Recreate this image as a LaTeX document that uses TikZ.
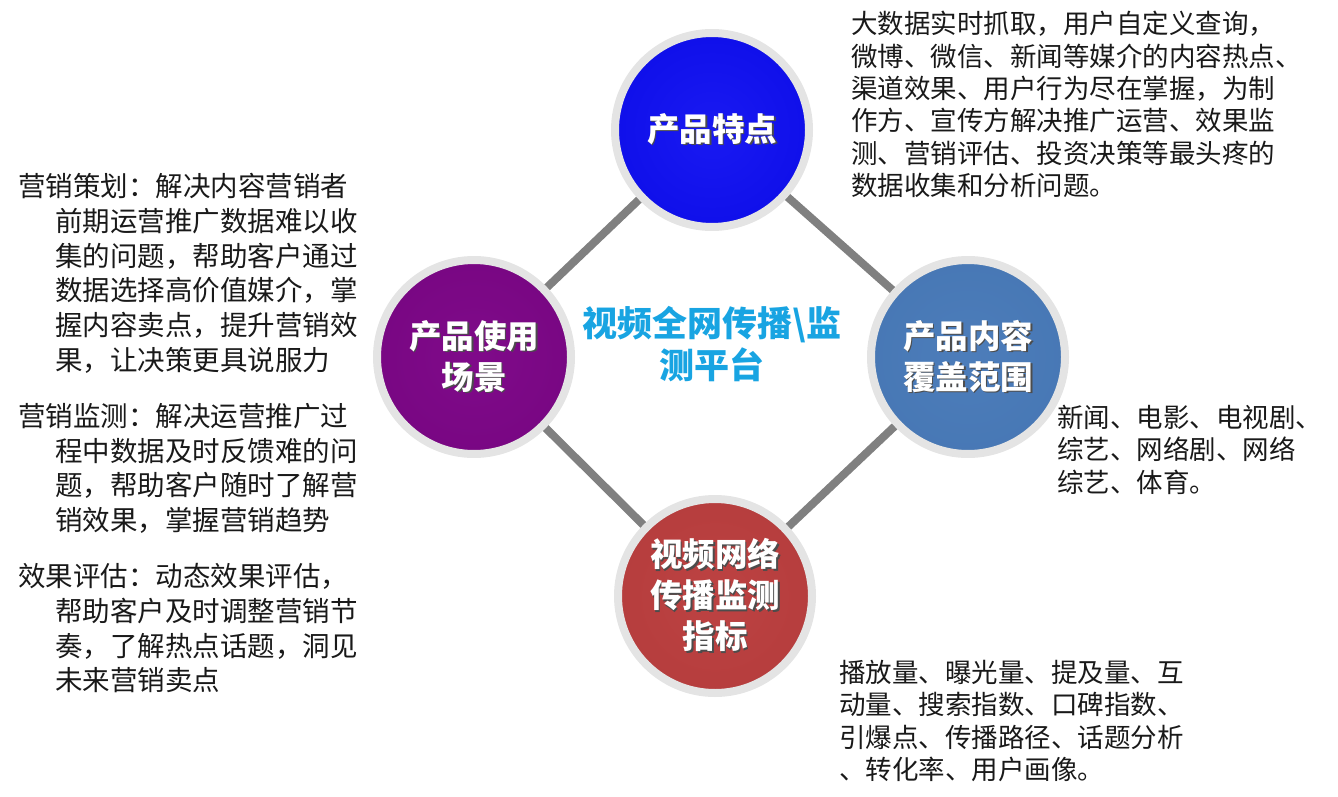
\documentclass[tikz,border=0pt]{standalone}
\usepackage{fontspec}
\setmainfont{Noto Sans CJK SC}
\usetikzlibrary{positioning,backgrounds}

\definecolor{linkgray}{RGB}{128,128,128}
\definecolor{ringgray}{RGB}{228,228,228}
\definecolor{titlecyan}{RGB}{24,164,226}
\definecolor{bodytext}{RGB}{25,25,25}

% circle fills: flat centre, light rim, dark edge
\pgfdeclareradialshading{ballblue}{\pgfpoint{0bp}{0bp}}{rgb(0bp)=(0.10,0.10,0.95); rgb(38bp)=(0.04,0.04,0.90); rgb(46bp)=(0.24,0.24,0.97); rgb(50bp)=(0.02,0.02,0.62)}
\pgfdeclareradialshading{ballsteel}{\pgfpoint{0bp}{0bp}}{rgb(0bp)=(0.30,0.49,0.73); rgb(38bp)=(0.27,0.46,0.70); rgb(46bp)=(0.45,0.62,0.82); rgb(50bp)=(0.18,0.32,0.52)}
\pgfdeclareradialshading{ballred}{\pgfpoint{0bp}{0bp}}{rgb(0bp)=(0.74,0.26,0.26); rgb(38bp)=(0.70,0.23,0.23); rgb(46bp)=(0.86,0.46,0.46); rgb(50bp)=(0.48,0.12,0.12)}
\pgfdeclareradialshading{ballpurple}{\pgfpoint{0bp}{0bp}}{rgb(0bp)=(0.50,0.04,0.54); rgb(38bp)=(0.46,0.02,0.50); rgb(46bp)=(0.63,0.26,0.67); rgb(50bp)=(0.30,0.00,0.34)}

\newcommand{\shd}[1]{\makebox[0pt][l]{\hspace{1.5pt}\raisebox{-1.5pt}{\color{black!70}#1}}#1}

\begin{document}
\begin{tikzpicture}[x=1pt,y=-1pt,
    ball/.style={circle,minimum size=194pt,inner sep=0pt,draw=ringgray,line width=8pt,
        text=white,align=center,font=\fontsize{32.5}{41}\selectfont\bfseries},
    link/.style={draw=linkgray,line width=8pt},
    note/.style={anchor=north west,inner sep=0pt,align=left,text=bodytext,
        font=\fontsize{26.5}{32.4}\selectfont},
    leftnote/.style={note,font=\fontsize{27.5}{34.8}\selectfont}]
    \useasboundingbox (0,0) rectangle (1338,797);

    % four circles
    \node[ball,shading=ballblue] (feature) at (712,130) {\shd{产品特点}};
    \node[ball,shading=ballsteel] (content) at (968,357) {\shd{产品内容}\\\shd{覆盖范围}};
    \node[ball,shading=ballred] (metric) at (715,596) {\shd{视频网络}\\\shd{传播监测}\\\shd{指标}};
    \node[ball,shading=ballpurple] (scene) at (474,357) {\shd{产品使用}\\\shd{场景}};

    % centre title
    \node[align=center,text=titlecyan,font=\fontsize{35}{42}\selectfont\bfseries] (title) at (712,344)
        {视频全网传播\textbackslash 监\\测平台};

    % connectors behind the circles
    \begin{scope}[on background layer]
        \draw[link] (feature.center) -- (content.center);
        \draw[link] (content.center) -- (metric.center);
        \draw[link] (metric.center) -- (scene.center);
        \draw[link] (scene.center) -- (feature.center);
    \end{scope}

    % descriptions
    \node[note] (featnote) at (851,11) {大数据实时抓取，用户自定义查询，\\
        微博、微信、新闻等媒介的内容热点、\\
        渠道效果、用户行为尽在掌握，为制\\
        作方、宣传方解决推广运营、效果监\\
        测、营销评估、投资决策等最头疼的\\
        数据收集和分析问题。};
    \node[note] (contnote) at (1057,405) {新闻、电影、电视剧、\\
        综艺、网络剧、网络\\
        综艺、体育。};
    \node[note] (metrnote) at (839,660) {播放量、曝光量、提及量、互\\
        动量、搜索指数、口碑指数、\\
        引爆点、传播路径、话题分析\\
        、转化率、用户画像。};

    \node[leftnote] (plannote) at (18,173) {营销策划：解决内容营销者\\
        \hspace*{37pt}前期运营推广数据难以收\\
        \hspace*{37pt}集的问题，帮助客户通过\\
        \hspace*{37pt}数据选择高价值媒介，掌\\
        \hspace*{37pt}握内容卖点，提升营销效\\
        \hspace*{37pt}果，让决策更具说服力};
    \node[leftnote] (monnote) at (18,403) {营销监测：解决运营推广过\\
        \hspace*{37pt}程中数据及时反馈难的问\\
        \hspace*{37pt}题，帮助客户随时了解营\\
        \hspace*{37pt}销效果，掌握营销趋势};
    \node[leftnote] (evalnote) at (18,563) {效果评估：动态效果评估，\\
        \hspace*{37pt}帮助客户及时调整营销节\\
        \hspace*{37pt}奏，了解热点话题，洞见\\
        \hspace*{37pt}未来营销卖点};
\end{tikzpicture}
\end{document}
